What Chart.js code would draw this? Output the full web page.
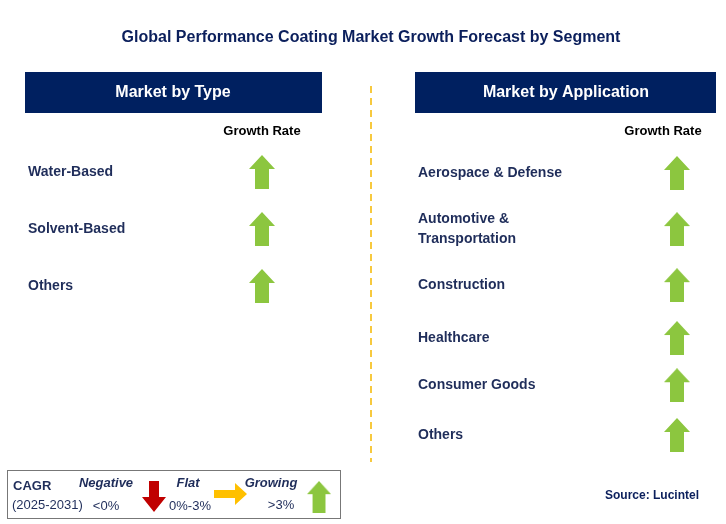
<!DOCTYPE html>
<html><head><meta charset="utf-8">
<script src="https://cdn.jsdelivr.net/npm/chart.js@4.4.0/dist/chart.umd.min.js"></script>
<style>html,body{margin:0;padding:0;background:#fff}canvas{display:block}</style>
</head><body>
<canvas id="c" width="726" height="524"></canvas>
<script>
const title = "Global Performance Coating Market Growth Forecast by Segment";
const typeCategories = ["Water-Based", "Solvent-Based", "Others"];
const typeGrowth = ["Growing", "Growing", "Growing"];
const appCategories = ["Aerospace & Defense", "Automotive &\nTransportation", "Construction", "Healthcare", "Consumer Goods", "Others"];
const appGrowth = ["Growing", "Growing", "Growing", "Growing", "Growing", "Growing"];
const appRows = [0, 1.07, 2.14, 3.15, 4.05, 5.0];

function arrowImg(color) {
  const w = 26, h = 34, c = document.createElement('canvas');
  c.width = w; c.height = h;
  const g = c.getContext('2d');
  g.fillStyle = color;
  g.beginPath();
  g.moveTo(w/2, 0); g.lineTo(w, 14); g.lineTo(w-6, 14); g.lineTo(w-6, h);
  g.lineTo(6, h); g.lineTo(6, 14); g.lineTo(0, 14);
  g.closePath(); g.fill();
  return c;
}
const green = arrowImg('#8cc63f');

const NAVY = '#0b1f5c';
const deco = {
  id: 'deco',
  beforeDatasetsDraw(chart) {
    const ctx = chart.ctx, yT = chart.scales.yT, yA = chart.scales.yA;
    ctx.save();
    ctx.textBaseline = 'middle';
    ctx.fillStyle = NAVY; ctx.font = 'bold 16px Arial, "Liberation Sans"'; ctx.textAlign = 'center';
    ctx.fillText(title, 371, 38);
    ctx.fillStyle = '#002060';
    ctx.fillRect(25, 72, 297, 41); ctx.fillRect(415, 72, 301, 41);
    ctx.fillStyle = '#fff'; ctx.font = 'bold 16px Arial, "Liberation Sans"';
    ctx.fillText('Market by Type', 173, 93); ctx.fillText('Market by Application', 566, 93);
    ctx.fillStyle = '#000'; ctx.font = 'bold 13px Arial, "Liberation Sans"';
    ctx.fillText('Growth Rate', 262, 131); ctx.fillText('Growth Rate', 663, 131);
    ctx.strokeStyle = '#f5b800'; ctx.lineWidth = 1.5; ctx.setLineDash([7, 5]);
    ctx.beginPath(); ctx.moveTo(371, 86); ctx.lineTo(371, 462); ctx.stroke(); ctx.setLineDash([]);
    ctx.fillStyle = '#1f2d5a'; ctx.font = 'bold 14px Arial, "Liberation Sans"'; ctx.textAlign = 'left';
    typeCategories.forEach((t, i) => ctx.fillText(t, 28, yT.getPixelForValue(i)));
    appCategories.forEach((t, i) => {
      const lines = t.split('\n'), yc = yA.getPixelForValue(appRows[i]);
      lines.forEach((l, k) => ctx.fillText(l, 418, yc + (k - (lines.length - 1) / 2) * 20));
    });
    ctx.strokeStyle = '#777'; ctx.lineWidth = 1; ctx.strokeRect(7.5, 470.5, 333, 48);
    ctx.fillStyle = '#1f2d5a'; ctx.font = 'bold 13px Arial, "Liberation Sans"';
    ctx.fillText('CAGR', 13, 486); ctx.font = '13px Arial, "Liberation Sans"'; ctx.fillText('(2025-2031)', 12, 505);
    ctx.font = 'bold italic 13px Arial, "Liberation Sans"'; ctx.textAlign = 'center';
    ctx.fillText('Negative', 106, 483); ctx.fillText('Flat', 188, 483); ctx.fillText('Growing', 271, 483);
    ctx.font = '13px Arial, "Liberation Sans"';
    ctx.fillText('<0%', 106, 506); ctx.fillText('0%-3%', 190, 506); ctx.fillText('>3%', 281, 505);
    ctx.fillStyle = '#c00000'; ctx.beginPath();
    ctx.moveTo(149, 481); ctx.lineTo(159, 481); ctx.lineTo(159, 497); ctx.lineTo(166, 497);
    ctx.lineTo(154, 512); ctx.lineTo(142, 497); ctx.lineTo(149, 497); ctx.closePath(); ctx.fill();
    ctx.fillStyle = '#ffc000'; ctx.beginPath();
    ctx.moveTo(214, 490); ctx.lineTo(235, 490); ctx.lineTo(235, 483); ctx.lineTo(247, 494);
    ctx.lineTo(235, 505); ctx.lineTo(235, 498); ctx.lineTo(214, 498); ctx.closePath(); ctx.fill();
    ctx.drawImage(green, 307, 481, 24, 32);
    ctx.fillStyle = NAVY; ctx.font = 'bold 12px Arial, "Liberation Sans"';
    ctx.fillText('Source: Lucintel', 652, 496);
    ctx.restore();
  }
};

new Chart(document.getElementById('c'), {
  type: 'scatter',
  data: {
    datasets: [
      { data: typeGrowth.map((g, i) => ({ x: 0, y: i })), yAxisID: 'yT', pointStyle: green, pointRadius: 13 },
      { data: appGrowth.map((g, i) => ({ x: 1, y: appRows[i] })), yAxisID: 'yA', pointStyle: green, pointRadius: 13 }
    ]
  },
  options: {
    responsive: false, animation: false, layout: { padding: 0, autoPadding: false },
    plugins: { legend: { display: false }, tooltip: { enabled: false } },
    scales: {
      x: { type: 'linear', display: false, min: -262 / 415, max: (726 - 262) / 415 },
      yT: { type: 'linear', display: false, reverse: true, min: -172 / 57, max: (524 - 172) / 57 },
      yA: { type: 'linear', display: false, reverse: true, min: -173 / 52.4, max: (524 - 173) / 52.4 }
    }
  },
  plugins: [deco]
});
</script>
</body></html>
